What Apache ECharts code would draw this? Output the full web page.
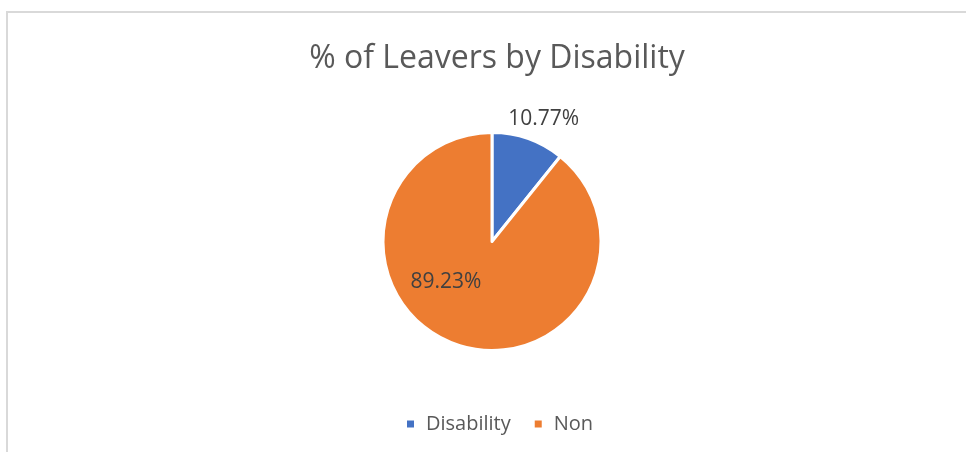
<!DOCTYPE html>
<html>
<head>
<meta charset="utf-8">
<script src="https://cdn.jsdelivr.net/npm/echarts@6/dist/echarts.min.js"></script>
<style>
  html, body { margin: 0; padding: 0; background: #fff; }
  #chart { width: 966px; height: 452px; }
</style>
</head>
<body>
<div id="chart"></div>
<script>
// Share of leavers split by disability status
const categories = ['Disability', 'Non'];
const shares = [10.77, 89.23];
const sliceColors = ['#4472C4', '#ED7D31'];

const labelPlacement = [
  { position: 'outside', offset: [-25, -20] },
  { position: 'inside', offset: [-27, -14] }
];

const chart = echarts.init(document.getElementById('chart'));
chart.setOption({
  animation: false,
  textStyle: { fontFamily: 'Open Sans, sans-serif' },
  title: {
    text: '% of Leavers by Disability',
    left: 492,
    textAlign: 'center',
    top: 38,
    textStyle: { fontSize: 32, fontWeight: 'normal', color: '#595959', fontFamily: 'Open Sans, sans-serif' }
  },
  legend: {
    bottom: 13,
    left: 400,
    icon: 'rect',
    itemWidth: 9,
    itemHeight: 9,
    itemGap: 22,
    textStyle: { fontSize: 20, color: '#595959', fontFamily: 'Open Sans, sans-serif', padding: [0, 0, 0, 6] },
    data: categories
  },
  graphic: [{
    type: 'rect',
    shape: { x: 7, y: 12, width: 980, height: 460 },
    style: { fill: 'none', stroke: '#d9d9d9', lineWidth: 2 },
    silent: true
  }],
  series: [{
    type: 'pie',
    center: [492, 241.5],
    radius: 109,
    startAngle: 90,
    clockwise: true,
    itemStyle: { borderColor: '#fff', borderWidth: 3 },
    labelLine: { show: false, length: 0, length2: 0 },
    data: categories.map((name, i) => ({
      name,
      value: shares[i],
      itemStyle: { color: sliceColors[i] },
      label: {
        show: true,
        position: labelPlacement[i].position,
        offset: labelPlacement[i].offset,
        formatter: p => p.value.toFixed(2) + '%',
        fontSize: 21,
        color: '#404040',
        fontFamily: 'Open Sans, sans-serif'
      }
    }))
  }]
});
</script>
</body>
</html>
